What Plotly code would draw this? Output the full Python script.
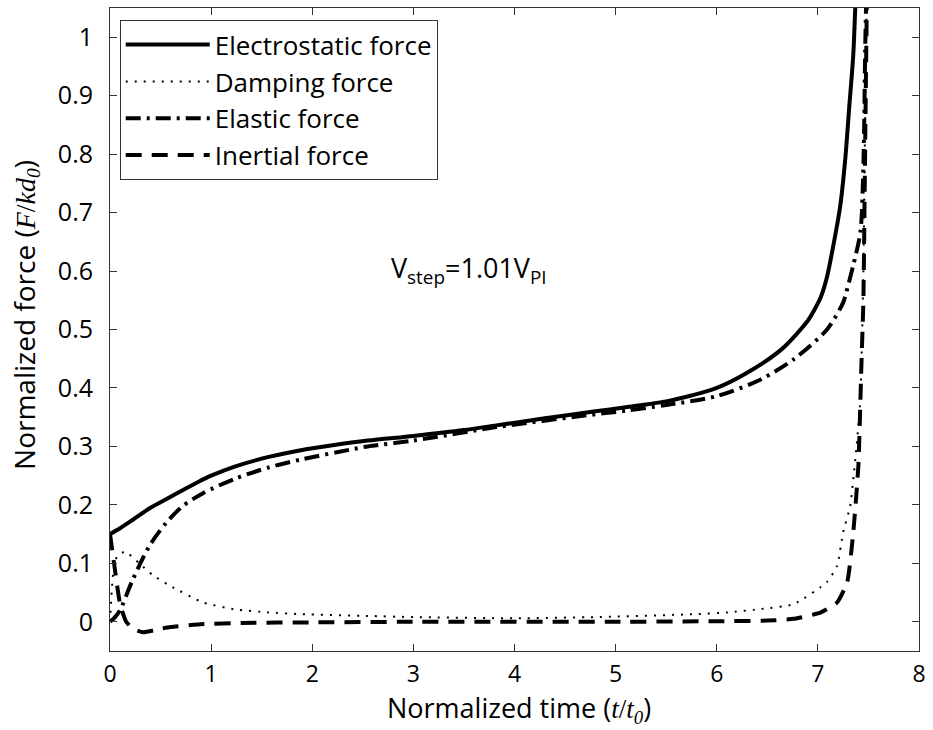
import plotly.graph_objects as go

# Normalized time samples (t/t0) and force components (F/kd0) for each curve
t_elec = [0, 0.1, 0.23, 0.4, 0.56, 0.75, 0.88, 1.0, 1.24, 1.57, 1.9, 2.2, 2.55, 3.0, 3.5,
          3.82, 4.3, 4.8, 5.1, 5.5, 5.75, 6.0, 6.3, 6.64, 6.9, 6.97, 7.03, 7.09, 7.14, 7.22,
          7.27, 7.31, 7.35, 7.37, 7.4]
f_elec = [0.15, 0.16, 0.175, 0.195, 0.21, 0.228, 0.24, 0.25, 0.266, 0.282, 0.294, 0.302,
          0.31, 0.318, 0.328, 0.336, 0.348, 0.36, 0.367, 0.377, 0.387, 0.4, 0.426, 0.466,
          0.515, 0.535, 0.556, 0.59, 0.632, 0.71, 0.79, 0.88, 0.97, 1.05, 1.15]

t_damp = [0, 0.03, 0.07, 0.15, 0.29, 0.42, 0.59, 0.92, 1.24, 1.57, 1.9, 2.55, 3.0, 4.0,
          4.8, 5.78, 6.11, 6.44, 6.76, 7.09, 7.19, 7.25, 7.32, 7.35, 7.38, 7.42, 7.45,
          7.47, 7.49]
f_damp = [0, 0.08, 0.112, 0.12, 0.10, 0.08, 0.062, 0.033, 0.021, 0.016, 0.013, 0.01,
          0.008, 0.006, 0.008, 0.013, 0.016, 0.022, 0.030, 0.068, 0.096, 0.153, 0.198,
          0.244, 0.295, 0.38, 0.6, 0.9, 1.15]

t_elas = [0, 0.05, 0.1, 0.22, 0.39, 0.56, 0.72, 0.92, 1.24, 1.57, 1.9, 2.39, 2.55, 3.0,
          3.82, 4.8, 5.1, 5.5, 6.0, 6.44, 6.76, 7.09, 7.25, 7.28, 7.35, 7.42, 7.45, 7.47,
          7.49]
f_elas = [0, 0.008, 0.02, 0.07, 0.13, 0.17, 0.198, 0.22, 0.245, 0.264, 0.278, 0.295,
          0.30, 0.31, 0.333, 0.355, 0.361, 0.371, 0.386, 0.415, 0.449, 0.50, 0.546, 0.563,
          0.61, 0.666, 0.78, 1.0, 1.15]

t_iner = [0, 0.04, 0.1, 0.16, 0.23, 0.33, 0.5, 0.6, 0.92, 1.3, 2.0, 3.0, 5.0, 6.0, 6.5,
          6.76, 7.03, 7.19, 7.29, 7.35, 7.4, 7.43, 7.45, 7.47, 7.49]
f_iner = [0.15, 0.10, 0.03, 0.0, -0.012, -0.018, -0.012, -0.009, -0.004, -0.002, -0.001,
          0.0, 0.0, 0.001, 0.002, 0.005, 0.016, 0.033, 0.068, 0.153, 0.266, 0.437, 0.55,
          0.85, 1.15]

x_ticks = [0, 1, 2, 3, 4, 5, 6, 7, 8]
y_ticks = [0, 0.1, 0.2, 0.3, 0.4, 0.5, 0.6, 0.7, 0.8, 0.9, 1.0]
y_tick_text = ["0", "0.1", "0.2", "0.3", "0.4", "0.5", "0.6", "0.7", "0.8", "0.9", "1"]

FONT = "Open Sans"
SERIF = "Liberation Serif"

fig = go.Figure()
fig.add_trace(go.Scatter(x=t_elec, y=f_elec, mode="lines", name="Electrostatic force",
                         line=dict(color="black", width=4, shape="spline", smoothing=0.8)))
fig.add_trace(go.Scatter(x=t_damp, y=f_damp, mode="lines", name="Damping force",
                         line=dict(color="black", width=2, dash="2px,7px",
                                   shape="spline", smoothing=0.5)))
fig.add_trace(go.Scatter(x=t_elas, y=f_elas, mode="lines", name="Elastic force",
                         line=dict(color="black", width=4, dash="15px,6px,3px,6px",
                                   shape="spline", smoothing=0.8)))
fig.add_trace(go.Scatter(x=t_iner, y=f_iner, mode="lines", name="Inertial force",
                         line=dict(color="black", width=4, dash="16px,10px",
                                   shape="spline", smoothing=0.5)))

fig.add_annotation(x=3.55, y=0.603, xref="x", yref="y", showarrow=False,
                   text="V<sub>step</sub>=1.01V<sub>PI</sub>",
                   font=dict(family=FONT, size=27, color="black"))

# Axis titles, placed just outside the plot frame
fig.add_annotation(x=0.506, y=-0.09, xref="paper", yref="paper", showarrow=False,
                   xanchor="center", yanchor="middle",
                   text="Normalized time (<span style='font-family:" + SERIF +
                        "'><i>t</i>/<i>t</i><sub><i>0</i></sub></span>)",
                   font=dict(family=FONT, size=27, color="black"))
fig.add_annotation(x=-0.106, y=0.523, xref="paper", yref="paper", showarrow=False,
                   xanchor="center", yanchor="middle", textangle=-90,
                   text="Normalized force (<span style='font-family:" + SERIF +
                        "'><i>F</i>/<i>kd</i><sub><i>0</i></sub></span>)",
                   font=dict(family=FONT, size=28, color="black"))

axis_common = dict(showgrid=False, zeroline=False, showline=True, linecolor="#333",
                   linewidth=1, mirror="ticks", ticks="inside", ticklen=7,
                   tickcolor="#333", ticklabeloverflow="allow")

fig.update_xaxes(range=[0, 8], tickvals=x_ticks, ticklabelstandoff=2,
                 tickfont=dict(family=FONT, size=23, color="black"), **axis_common)
fig.update_yaxes(range=[-0.05, 1.05], tickvals=y_ticks, ticktext=y_tick_text,
                 ticklabelstandoff=11,
                 tickfont=dict(family=FONT, size=25, color="black"), **axis_common)

fig.update_layout(
    width=933, height=730,
    margin=dict(l=110, r=7, t=7, b=79),
    paper_bgcolor="white", plot_bgcolor="white",
    font=dict(family=FONT, color="black"),
    legend=dict(x=0.012, y=0.981, xanchor="left", yanchor="top",
                bgcolor="white", bordercolor="#333", borderwidth=1,
                font=dict(family=FONT, size=26, color="black"),
                itemwidth=84, tracegroupgap=0),
)

fig.write_html("out.html")
